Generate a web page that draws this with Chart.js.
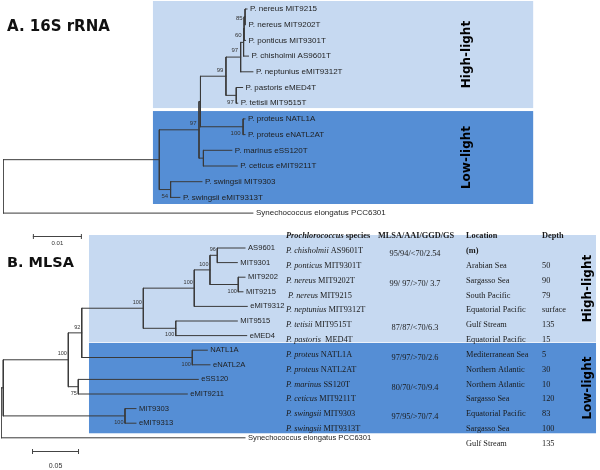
<!DOCTYPE html>
<html>
<head>
<meta charset="utf-8">
<script src="https://cdn.jsdelivr.net/npm/chart.js@4.4.1/dist/chart.umd.min.js"></script>
<style>
  body { margin: 0; background: #fff; width: 600px; height: 470px; overflow: hidden; position: relative; }
  canvas { position: absolute; left: 0; }
</style>
</head>
<body>
<canvas id="treeA" width="600" height="250" style="top:0"></canvas>
<canvas id="treeB" width="600" height="245" style="top:225px"></canvas>
<script>
// ---- A. 16S rRNA tree ----
// leaves top to bottom, tip distance from root (subst./site)
const leavesA = ['P. nereus MIT9215', 'P. nereus MIT9202T', 'P. ponticus MIT9301T', 'P. chisholmii AS9601T',
    'P. neptunius eMIT9312T', 'P. pastoris eMED4T', 'P. tetisii MIT9515T', 'P. proteus NATL1A',
    'P. proteus eNATL2AT', 'P. marinus eSS120T', 'P. ceticus eMIT9211T', 'P. swingsii MIT9303',
    'P. swingsii eMIT9313T', 'Synechococcus elongatus PCC6301'];
const tipsA = [0.0498, 0.0495, 0.0495, 0.0501, 0.0510, 0.0489, 0.0479, 0.0494, 0.0494, 0.0467, 0.0478, 0.0406, 0.0361, 0.0510];
// internal nodes (index = 14 + position), children first
const nodeDepthA = [0.0494, 0.0492, 0.0491, 0.0485, 0.0476, 0.0455, 0.0490, 0.0403, 0.0409, 0.0400, 0.0342, 0.0319, 0];
const nodeKidsA = [[0, 1], [14, 2], [15, 3], [16, 4], [5, 6], [17, 18], [7, 8], [19, 20], [9, 10], [21, 22], [11, 12], [23, 24], [25, 13]];
const bootA = [85, 60, null, 97, 97, 99, 100, null, null, 97, 54, null, null];
const bootSideA = ['m', 'b', '', 'a', 'b', 'a', 'b', '', '', 'a', 'b', '', ''];

// ---- B. MLSA tree ----
const leavesB = ['AS9601', 'MIT9301', 'MIT9202', 'MIT9215', 'eMIT9312', 'MIT9515', 'eMED4', 'NATL1A',
    'eNATL2A', 'eSS120', 'eMIT9211', 'MIT9303', 'eMIT9313', 'Synechococcus elongatus PCC6301'];
const tipsB = [0.2596, 0.2514, 0.2596, 0.2574, 0.2620, 0.2514, 0.2614, 0.2195, 0.2223, 0.2099, 0.1982, 0.1436, 0.1436, 0.2596];
const nodeDepthB = [0.2301, 0.2524, 0.2223, 0.2056, 0.1859, 0.1514, 0.2035, 0.0859, 0.0822, 0.0716, 0.1319, 0.0024, 0];
const nodeKidsB = [[0, 1], [2, 3], [14, 15], [16, 4], [5, 6], [17, 18], [7, 8], [19, 20], [9, 10], [21, 22], [11, 12], [23, 24], [25, 13]];
const bootB = [96, 100, 100, 100, 100, 100, 100, 92, 75, 100, 100, null, null];
const bootSideB = ['a', 'b', 'a', 'a', 'b', 'a', 'b', 'a', 'b', 'a', 'b', '', ''];

// ---- table next to tree B ----
const tableHead = ['MLSA/AAI/GGD/GS', 'Location', 'Depth'];
const speciesItalic = ['P. chisholmii', 'P. ponticus', 'P. nereus', ' P. nereus', 'P. neptunius', 'P. tetisii', 'P. pastoris',
    'P. proteus', 'P. proteus', 'P. marinus', 'P. ceticus', 'P. swingsii', 'P. swingsii'];
const speciesStrain = ['AS9601T', 'MIT9301T', 'MIT9202T', 'MIT9215', 'MIT9312T', 'MIT9515T', ' MED4T',
    'NATL1A', 'NATL2AT', 'SS120T', 'MIT9211T', 'MIT9303', 'MIT9313T'];
const mlsaValues = ['95/94/<70/2.54', '99/ 97/>70/ 3.7', '87/87/<70/6.3', '97/97/>70/2.6', '80/70/<70/9.4', '97/95/>70/7.4'];
const mlsaRows = [0.5, 2.5, 5.5, 7.5, 9.5, 11.5];
const locations = ['(m)', 'Arabian Sea', 'Sargasso Sea', 'South Pacific', 'Equatorial Pacific', 'Gulf Stream', 'Equatorial Pacific',
    'Mediterranean Sea', 'Northern Atlantic', 'Northern Atlantic', 'Sargasso Sea', 'Equatorial Pacific', 'Sargasso Sea', 'Gulf Stream'];
const depths = ['', '50', '90', '79', 'surface', '135', '15', '5', '30', '10', '120', '83', '100', '135'];

const sans = '"Liberation Sans", Arial, sans-serif';
const serif = '"Liberation Serif", "Times New Roman", serif';
const heavy = '"DejaVu Sans", sans-serif';
const lightBlue = '#c6d9f1';
const darkBlue = '#558ed5';
const ink = '#2b2b2b';

// node positions + elbow segments for a tree
function buildTree(tips, depth, kids) {
    const n = tips.length;
    const xs = tips.concat(depth);
    const ys = tips.map((t, i) => i);
    kids.forEach((k, j) => {
        ys[n + j] = (ys[k[0]] + ys[k[k.length - 1]]) / 2;
    });
    const pts = [];
    const gap = { x: null, y: null };
    kids.forEach((k, j) => {
        const x = xs[n + j];
        pts.push({ x: x, y: ys[k[0]] }, { x: x, y: ys[k[k.length - 1]] }, gap);
        k.forEach(c => pts.push({ x: x, y: ys[c] }, { x: xs[c], y: ys[c] }, gap));
    });
    return { n, xs, ys, pts };
}

function vText(ctx, txt, x, y) {
    ctx.save();
    ctx.translate(x, y);
    ctx.rotate(-Math.PI / 2);
    ctx.textAlign = 'center';
    ctx.textBaseline = 'middle';
    ctx.fillText(txt, 0, 0);
    ctx.restore();
}

function makeDecor(cfg) {
    return {
        id: 'decor',
        beforeDatasetsDraw(chart) {
            const { ctx, scales: { x, y } } = chart;
            ctx.save();
            cfg.bands.forEach(b => {
                const x0 = x.getPixelForValue(cfg.bandX[0]), x1 = x.getPixelForValue(cfg.bandX[1]);
                const y0 = y.getPixelForValue(b[0]), y1 = y.getPixelForValue(b[1]);
                ctx.fillStyle = b[2];
                ctx.fillRect(x0, y0, x1 - x0, y1 - y0);
            });
            ctx.restore();
        },
        afterDatasetsDraw(chart) {
            const { ctx, scales: { x, y } } = chart;
            const t = cfg.tree;
            ctx.save();
            ctx.fillStyle = '#1e1e1e';
            // leaf labels
            ctx.font = cfg.leafFont;
            ctx.textAlign = 'left';
            ctx.textBaseline = 'middle';
            cfg.leaves.forEach((name, i) => {
                ctx.fillText(name, x.getPixelForValue(t.xs[i]) + 3, y.getPixelForValue(i));
            });
            // bootstrap values
            ctx.font = cfg.bootFont;
            ctx.fillStyle = '#333';
            ctx.textAlign = 'right';
            cfg.boot.forEach((v, j) => {
                if (v === null) return;
                const side = cfg.bootSide[j];
                const off = side === 'a' ? -0.4 : side === 'b' ? 0.45 : 0.1;
                ctx.fillText(String(v), x.getPixelForValue(t.xs[t.n + j]) + cfg.bootDx, y.getPixelForValue(t.ys[t.n + j] + off));
            });
            // scale bar
            const s0 = x.getPixelForValue(cfg.bar[0]), s1 = x.getPixelForValue(cfg.bar[0] + cfg.bar[1]);
            const sy = cfg.bar[2];
            ctx.strokeStyle = '#444';
            ctx.lineWidth = 1;
            ctx.beginPath();
            ctx.moveTo(s0, sy + 0.5); ctx.lineTo(s1, sy + 0.5);
            ctx.moveTo(s0 + 0.5, sy - 2); ctx.lineTo(s0 + 0.5, sy + 3);
            ctx.moveTo(s1 - 0.5, sy - 2); ctx.lineTo(s1 - 0.5, sy + 3);
            ctx.stroke();
            ctx.font = cfg.barFont;
            ctx.textAlign = 'center';
            ctx.fillText(String(cfg.bar[1]), (s0 + s1) / 2, sy + cfg.barLabelDy);
            // panel title
            ctx.fillStyle = '#111';
            ctx.font = cfg.titleFont;
            ctx.textAlign = 'left';
            ctx.textBaseline = 'alphabetic';
            ctx.fillText(cfg.title, 7, cfg.titleY);
            // clade names
            ctx.font = 'bold 12px ' + heavy;
            ctx.fillStyle = '#000';
            cfg.bands.forEach(b => {
                vText(ctx, b[3], cfg.cladeX, y.getPixelForValue((b[0] + b[1]) / 2));
            });
            if (cfg.table) cfg.table(ctx, x, y);
            ctx.restore();
        }
    };
}

function drawTable(ctx, x, y) {
    const row = r => y.getPixelForValue(0.2 + r * 1.016);
    const fs = 8.3;
    ctx.fillStyle = '#1a1a1a';
    ctx.textBaseline = 'middle';
    ctx.textAlign = 'left';
    // header
    const hy = row(-1);
    ctx.font = 'italic bold ' + fs + 'px ' + serif;
    ctx.fillText('Prochlorococcus', 286, hy);
    const w = ctx.measureText('Prochlorococcus').width;
    ctx.font = 'bold ' + fs + 'px ' + serif;
    ctx.fillText(' species', 286 + w, hy);
    ctx.textAlign = 'center';
    ctx.fillText(tableHead[0], 416, hy);
    ctx.textAlign = 'left';
    ctx.fillText(tableHead[1], 466, hy);
    ctx.fillText(tableHead[2], 542, hy);
    // species rows
    speciesItalic.forEach((sp, r) => {
        ctx.font = 'italic ' + fs + 'px ' + serif;
        ctx.fillText(sp, 286, row(r));
        const sw = ctx.measureText(sp).width;
        ctx.font = fs + 'px ' + serif;
        ctx.fillText(' ' + speciesStrain[r], 286 + sw, row(r));
    });
    ctx.font = fs + 'px ' + serif;
    ctx.textAlign = 'center';
    mlsaValues.forEach((v, i) => ctx.fillText(v, 415, row(mlsaRows[i] - 0.3)));
    ctx.textAlign = 'left';
    locations.forEach((loc, r) => {
        ctx.font = (r === 0 ? 'bold ' : '') + fs + 'px ' + serif;
        ctx.fillText(loc, 466, row(r));
        ctx.fillText(depths[r], 542, row(r));
    });
}

function treeChart(id, tree, xmax, pad, decor) {
    return new Chart(document.getElementById(id).getContext('2d'), {
        type: 'scatter',
        data: {
            datasets: [{
                data: tree.pts,
                showLine: true,
                spanGaps: false,
                borderColor: '#3a3a3a',
                borderWidth: 1,
                borderCapStyle: 'square',
                pointRadius: 0,
                pointHoverRadius: 0
            }]
        },
        options: {
            responsive: false,
            animation: false,
            devicePixelRatio: 1,
            events: [],
            layout: { padding: pad },
            plugins: { legend: { display: false }, tooltip: { enabled: false } },
            scales: {
                x: { type: 'linear', min: 0, max: xmax, display: false },
                y: { type: 'linear', min: -0.5, max: 13.5, reverse: true, display: false }
            }
        },
        plugins: [decor]
    });
}

const treeA = buildTree(tipsA, nodeDepthA, nodeKidsA);
const treeB = buildTree(tipsB, nodeDepthB, nodeKidsB);

treeChart('treeA', treeA, 0.12, { left: 3, right: 9, top: 1.15, bottom: 29.05 }, makeDecor({
    tree: treeA, leaves: leavesA, boot: bootA, bootSide: bootSideA, bootDx: -2.5,
    leafFont: '8px ' + sans, bootFont: '6px ' + sans,
    bandX: [0.0306, 0.1082],
    bands: [[-0.51, 6.31, lightBlue, 'High-light'], [6.5, 12.42, darkBlue, 'Low-light']],
    cladeX: 467,
    bar: [0.0061, 0.01, 236], barFont: '6px ' + sans, barLabelDy: 7,
    title: 'A. 16S rRNA', titleFont: 'bold 15px ' + heavy, titleY: 31
}));

treeChart('treeB', treeB, 0.625, { left: 1, right: 11.5, top: 15.7, bottom: 24.9 }, makeDecor({
    tree: treeB, leaves: leavesB, boot: bootB, bootSide: bootSideB, bootDx: -1.5,
    leafFont: '7.6px ' + sans, bootFont: '5.5px ' + sans,
    bandX: [0.0936, 0.6330],
    bands: [[-0.89, 6.44, lightBlue, 'High-light'], [6.5, 12.69, darkBlue, 'Low-light']],
    cladeX: 588,
    bar: [0.033, 0.05, 226], barFont: '7px ' + sans, barLabelDy: 15,
    title: 'B. MLSA', titleFont: 'bold 14.5px ' + heavy, titleY: 42,
    table: drawTable
}));
</script>
</body>
</html>
